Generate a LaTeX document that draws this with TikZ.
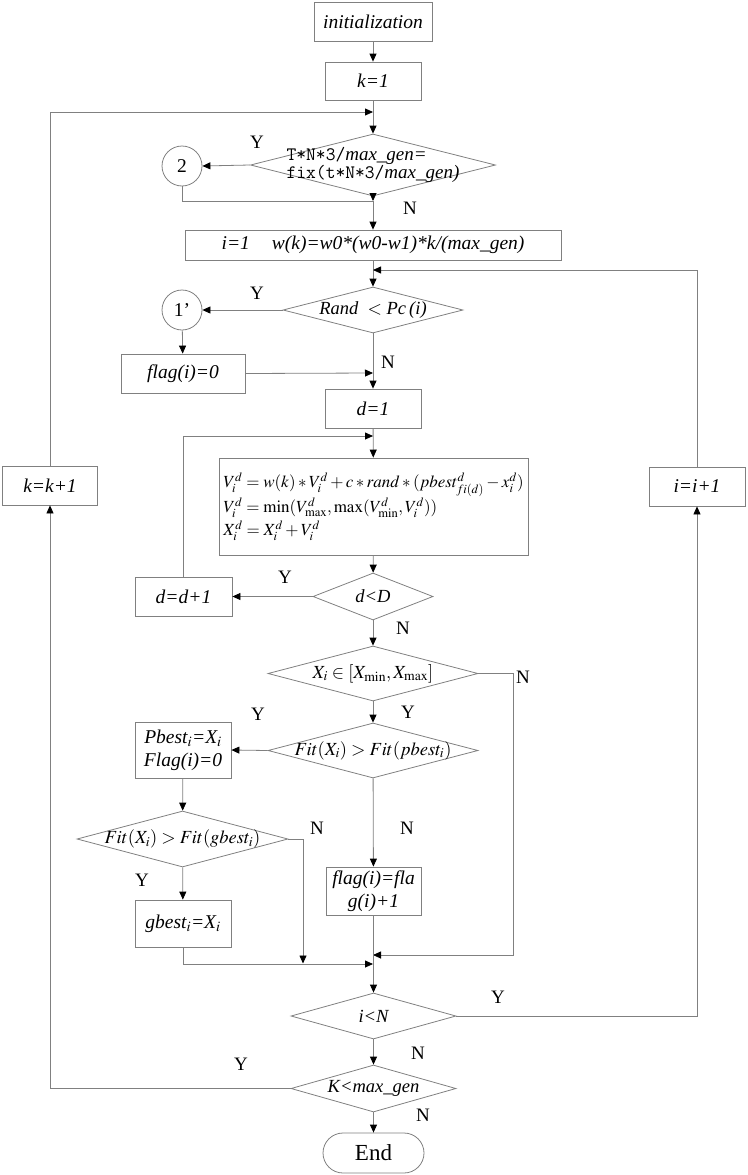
\documentclass[tikz,border=0pt]{standalone}
\usepackage{mathptmx}
\usepackage{fontspec}
\setmainfont{Liberation Serif}
\usetikzlibrary{shapes.geometric, arrows.meta, positioning, calc}
\definecolor{linegray}{RGB}{128,128,128}
\newcommand{\zw}[1]{\makebox[0pt]{#1}}

\begin{document}
\begin{tikzpicture}[x=1pt, y=-1pt,
  proc/.style={draw=linegray, line width=0.8pt, rectangle, inner sep=0pt, align=center,
    font=\fontsize{19.5}{23}\selectfont\itshape},
  decision/.style={draw=linegray, line width=0.8pt, diamond, inner sep=0pt, aspect=1,
    font=\fontsize{18.5}{22}\selectfont\itshape},
  conn/.style={circle, draw=linegray, line width=0.8pt, minimum size=40pt, inner sep=0pt,
    font=\fontsize{19.5}{23}\selectfont},
  line/.style={draw=linegray, line width=0.8pt},
  arr/.style={line, -{Triangle[length=8pt, width=7pt, color=black]}},
  yn/.style={font=\fontsize{19}{22}\selectfont}]
  \useasboundingbox (0,0) rectangle (747,1175);

  % main column
  \node[proc, minimum width=118pt, minimum height=39pt] (init) at (373,21.5) {initialization};
  \node[proc, minimum width=96pt, minimum height=38pt] (kone) at (373,81) {k=1};
  \node[decision, minimum width=245pt, minimum height=62pt] (fixtest) at (373,165)
    {\zw{\fontsize{19}{21}\selectfont\begin{tabular}{@{}l@{}}{\ttfamily\upshape T*N*3/}max\_gen={}\\[-3pt]{\ttfamily\upshape fix(t*N*3/}max\_gen)\end{tabular}}};
  \node[conn] (ctwo) at (182,166) {2};
  \node[proc, minimum width=376pt, minimum height=30pt] (iw) at (373,245)
    {i=1\hspace{22pt}w(k)=w0*(w0-w1)*k/(max\_gen)};
  \node[decision, minimum width=180pt, minimum height=46pt] (randtest) at (373,310)
    {\zw{Rand \ \upshape$<$\ \itshape Pc\,(i)}};
  \node[conn] (cone) at (182,310) {1’};
  \node[proc, minimum width=124pt, minimum height=39pt] (flagzero) at (183,373.5) {flag(i)=0};
  \node[proc, minimum width=96pt, minimum height=39pt] (done) at (373,408.5) {d=1};
  \node[proc, minimum width=309pt, minimum height=97pt, align=left, font=\fontsize{17}{23}\selectfont] (update) at (373.5,506.5)
    {$V_i^d=w(k)*V_i^d+c*rand*(pbest^d_{fi(d)}-x_i^d)$\\
     $V_i^d=\min(V^d_{\max},\max(V^d_{\min},V_i^d))$\\
     $X_i^d=X_i^d+V_i^d$};
  \node[decision, minimum width=120pt, minimum height=47pt] (dtest) at (373,596.5) {\zw{d<D}};
  \node[proc, minimum width=97pt, minimum height=39pt] (dinc) at (183.5,596.5) {d=d+1};
  \node[proc, minimum width=95pt, minimum height=39pt] (kinc) at (50,485.5) {k=k+1};
  \node[proc, minimum width=96pt, minimum height=39pt] (iinc) at (697,486.5) {i=i+1};
  \node[decision, minimum width=210pt, minimum height=55pt] (range) at (373,673.5)
    {\zw{\upshape$X_i\in[X_{\min},X_{\max}]$}};
  \node[decision, minimum width=210pt, minimum height=55pt] (fitp) at (373,750.5)
    {\zw{\upshape$Fit(X_i)>Fit(pbest_i)$}};
  \node[proc, minimum width=96pt, minimum height=56pt] (pbest) at (183,750)
    {Pbest$_i$=X$_i$\\Flag(i)=0};
  \node[decision, minimum width=211pt, minimum height=56pt] (fitg) at (182.5,839)
    {\zw{\upshape$Fit(X_i)>Fit(gbest_i)$}};
  \node[proc, minimum width=96pt, minimum height=47pt] (gbest) at (183,923.5) {gbest$_i$=X$_i$};
  \node[proc, minimum width=95pt, minimum height=48pt] (flagup) at (373.5,891) {flag(i)=fla\\g(i)+1};
  \node[decision, minimum width=165pt, minimum height=46pt] (itest) at (373.5,1016) {\zw{i<N}};
  \node[decision, minimum width=165pt, minimum height=47pt] (ktest) at (373.5,1088.5) {\zw{K<max\_gen}};
  \node[draw=linegray, line width=0.8pt, rectangle, rounded corners=20pt, minimum width=101pt,
    minimum height=40pt, font=\fontsize{23}{27}\selectfont] (stop) at (373.5,1153) {End};

  % junctions
  \coordinate (jk) at (373,112);
  \coordinate (jtwo) at (373,201);
  \coordinate (ji) at (373,270);
  \coordinate (jf) at (373,373);
  \coordinate (jd) at (373,436);
  \coordinate (xr) at (513,955);
  \coordinate (jr) at (373,955);
  \coordinate (gr) at (303,963.5);
  \coordinate (jl) at (373,964);

  % connectors
  \draw[arr] (init) -- (kone);
  \draw[arr] (kone) -- (fixtest);
  \draw[arr] (kinc.north) |- (jk);
  \draw[arr] (fixtest.west) -- (ctwo.east);
  \draw[arr] (fixtest.south) -- (jtwo);
  \draw[line] (ctwo.south) |- (jtwo);
  \draw[arr] (jtwo) -- (iw.north);
  \draw[arr] (iw) -- (randtest);
  \draw[arr] (iinc.north) |- (ji);
  \draw[arr] (randtest.west) -- (cone.east);
  \draw[arr] (cone) -- (flagzero);
  \draw[arr] (randtest) -- (done);
  \draw[arr] (flagzero.east) -- (jf);
  \draw[arr] (done) -- (update);
  \draw[arr] (dinc.north) |- (jd);
  \draw[arr] (update) -- (dtest);
  \draw[arr] (dtest.west) -- (dinc.east);
  \draw[arr] (dtest) -- (range);
  \draw[arr] (range) -- (fitp);
  \draw[arr] (range.east) -| (xr) -- (jr);
  \draw[arr] (fitp.west) -- (pbest.east);
  \draw[arr] (fitp) -- (flagup);
  \draw[arr] (pbest) -- (fitg);
  \draw[arr] (fitg) -- (gbest);
  \draw[arr] (fitg.east) -| (gr);
  \draw[arr] (gbest.south) |- (jl);
  \draw[arr] (flagup) -- (itest);
  \draw[arr] (itest) -- (ktest);
  \draw[arr] (ktest) -- (stop);
  \draw[arr] (itest.east) -| (iinc.south);
  \draw[arr] (ktest.west) -| (kinc.south);

  % branch labels
  \node[yn] (l1) at (257,142) {Y};
  \node[yn] (l2) at (410,208) {N};
  \node[yn] (l3) at (257,293) {Y};
  \node[yn] (l4) at (388,362) {N};
  \node[yn] (l5) at (285,577) {Y};
  \node[yn] (l6) at (403,628) {N};
  \node[yn] (l7) at (523,677) {N};
  \node[yn] (l8) at (408,712) {Y};
  \node[yn] (l9) at (258,714) {Y};
  \node[yn] (l10) at (317,828) {N};
  \node[yn] (l11) at (407,828) {N};
  \node[yn] (l12) at (142,880) {Y};
  \node[yn] (l13) at (498,997) {Y};
  \node[yn] (l14) at (418,1053) {N};
  \node[yn] (l15) at (241,1064) {Y};
  \node[yn] (l16) at (423,1115) {N};
\end{tikzpicture}
\end{document}
